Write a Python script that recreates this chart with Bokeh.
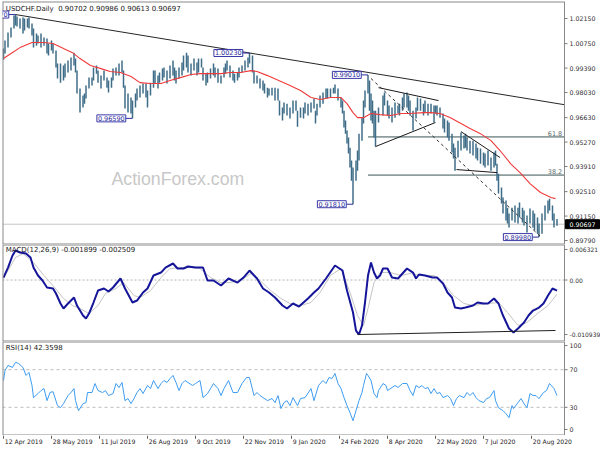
import numpy as np
from bokeh.plotting import figure
from bokeh.layouts import column
from bokeh.models import Range1d, Label
from bokeh.core.properties import value
from bokeh.embed import file_html
from bokeh.resources import INLINE

# ---------------- data (bar index 0 = 12 Apr 2019, daily bars) ----------------
symbol_title = "USDCHF.Daily\u00a0 0.90702 0.90986 0.90613 0.90697"
last_close = 0.90697

bar_idx = [0, 1, 3, 5, 7, 8, 9, 11, 13, 14,
           16, 17, 19, 20, 22, 23, 25, 27, 29, 30,
           32, 33, 35, 36, 38, 40, 41, 43, 45, 47,
           48, 49, 51, 53, 54, 55, 57, 59, 60, 62,
           63, 65, 67, 69, 70, 72, 73, 75, 77, 79,
           80, 81, 83, 85, 86, 88, 89, 91, 93, 95,
           96, 98, 100, 101, 103, 104, 106, 107, 109, 111,
           113, 114, 115, 117, 119, 120, 122, 123, 125, 127,
           129, 130, 132, 133, 135, 136, 138, 140, 141, 143,
           145, 147, 148, 149, 151, 153, 154, 156, 157, 159,
           161, 163, 164, 166, 167, 169, 171, 173, 174, 176,
           177, 179, 181, 183, 184, 186, 187, 189, 191, 193,
           195, 196, 198, 200, 201, 203, 205, 207, 208, 209,
           211, 213, 215, 216, 218, 220, 221, 223, 225, 226,
           227, 228, 229, 230, 231, 232, 233, 235, 236, 237,
           239, 240, 241, 243, 244, 245, 246, 247, 248, 250,
           253, 254, 256, 257, 259, 261, 263, 264, 266, 267,
           269, 270, 271, 273, 275, 276, 278, 280, 281, 283,
           285, 287, 288, 289, 291, 293, 294, 296, 297, 299,
           300, 301, 303, 305, 307, 308, 309, 311, 313, 315,
           316, 318, 320, 321, 323, 325, 327, 328, 329, 330,
           332, 333, 335, 336, 337, 339, 341, 343, 344, 346,
           347, 349, 351, 353, 354, 356, 357, 359, 361, 363,
           364, 366, 367, 369]

bar_high = [1.0048, 1.0092, 1.0137, 1.0165, 1.0232, 1.0237, 1.0226, 1.0215, 1.0220, 1.0215,
            1.0215, 1.0220, 1.0187, 1.0159, 1.0131, 1.0120, 1.0131, 1.0109, 1.0103, 1.0076,
            1.0092, 1.0076, 1.0037, 0.9964, 0.9964, 0.9953, 0.9964, 0.9981, 0.9998, 1.0025,
            0.9992, 0.9925, 0.9825, 0.9786, 0.9797, 0.9842, 0.9886, 0.9886, 0.9942, 0.9953,
            0.9925, 0.9897, 0.9925, 0.9886, 0.9870, 0.9886, 0.9936, 0.9942, 0.9964, 0.9981,
            0.9925, 0.9842, 0.9797, 0.9775, 0.9758, 0.9797, 0.9825, 0.9842, 0.9853, 0.9853,
            0.9814, 0.9858, 0.9925, 0.9925, 0.9897, 0.9914, 0.9936, 0.9942, 0.9925, 0.9953,
            0.9981, 0.9942, 0.9925, 0.9942, 0.9970, 1.0009, 1.0025, 1.0009, 0.9964, 0.9992,
            0.9970, 0.9992, 0.9992, 0.9942, 0.9908, 0.9914, 0.9936, 0.9964, 0.9942, 0.9936,
            0.9897, 0.9942, 0.9964, 0.9981, 0.9953, 0.9925, 0.9908, 0.9914, 0.9942, 0.9953,
            0.9981, 0.9998, 1.0023, 1.0009, 0.9925, 0.9897, 0.9881, 0.9870, 0.9853, 0.9830,
            0.9825, 0.9830, 0.9830, 0.9825, 0.9758, 0.9719, 0.9747, 0.9741, 0.9719, 0.9758,
            0.9758, 0.9702, 0.9719, 0.9719, 0.9747, 0.9741, 0.9747, 0.9769, 0.9702, 0.9741,
            0.9786, 0.9803, 0.9825, 0.9825, 0.9825, 0.9830, 0.9847, 0.9825, 0.9775, 0.9758,
            0.9702, 0.9647, 0.9591, 0.9552, 0.9496, 0.9424, 0.9385, 0.9424, 0.9480, 0.9574,
            0.9663, 0.9758, 0.9814, 0.9901, 0.9870, 0.9797, 0.9758, 0.9702, 0.9702, 0.9719,
            0.9786, 0.9803, 0.9758, 0.9730, 0.9719, 0.9747, 0.9730, 0.9741, 0.9775, 0.9797,
            0.9803, 0.9786, 0.9758, 0.9702, 0.9719, 0.9775, 0.9769, 0.9741, 0.9758, 0.9741,
            0.9741, 0.9730, 0.9730, 0.9730, 0.9719, 0.9686, 0.9658, 0.9647, 0.9636, 0.9574,
            0.9519, 0.9496, 0.9535, 0.9580, 0.9563, 0.9574, 0.9552, 0.9535, 0.9535, 0.9519,
            0.9496, 0.9491, 0.9469, 0.9463, 0.9480, 0.9441, 0.9469, 0.9480, 0.9407, 0.9351,
            0.9274, 0.9218, 0.9201, 0.9162, 0.9129, 0.9162, 0.9174, 0.9162, 0.9190, 0.9162,
            0.9146, 0.9118, 0.9157, 0.9146, 0.9129, 0.9107, 0.9073, 0.9129, 0.9174, 0.9201,
            0.9212, 0.9174, 0.9129, 0.9099]

bar_low = [0.9986, 1.0020, 1.0053, 1.0109, 1.0159, 1.0176, 1.0170, 1.0159, 1.0131, 1.0148,
           1.0165, 1.0159, 1.0120, 1.0053, 1.0064, 1.0076, 1.0053, 1.0064, 1.0020, 1.0009,
           1.0037, 1.0020, 0.9942, 0.9881, 0.9858, 0.9870, 0.9886, 0.9914, 0.9925, 0.9953,
           0.9914, 0.9797, 0.9691, 0.9719, 0.9741, 0.9769, 0.9825, 0.9842, 0.9870, 0.9908,
           0.9858, 0.9825, 0.9870, 0.9830, 0.9803, 0.9830, 0.9870, 0.9897, 0.9897, 0.9914,
           0.9830, 0.9714, 0.9691, 0.9686, 0.9659, 0.9719, 0.9758, 0.9775, 0.9797, 0.9775,
           0.9719, 0.9786, 0.9830, 0.9853, 0.9825, 0.9858, 0.9870, 0.9886, 0.9853, 0.9881,
           0.9897, 0.9870, 0.9853, 0.9881, 0.9897, 0.9925, 0.9942, 0.9914, 0.9897, 0.9925,
           0.9897, 0.9914, 0.9942, 0.9870, 0.9842, 0.9858, 0.9881, 0.9897, 0.9886, 0.9858,
           0.9853, 0.9886, 0.9908, 0.9925, 0.9886, 0.9870, 0.9858, 0.9870, 0.9886, 0.9914,
           0.9925, 0.9942, 0.9964, 0.9914, 0.9853, 0.9853, 0.9825, 0.9814, 0.9797, 0.9775,
           0.9786, 0.9786, 0.9758, 0.9758, 0.9675, 0.9647, 0.9686, 0.9675, 0.9658, 0.9686,
           0.9702, 0.9613, 0.9663, 0.9658, 0.9686, 0.9675, 0.9691, 0.9714, 0.9630, 0.9675,
           0.9719, 0.9741, 0.9769, 0.9769, 0.9775, 0.9797, 0.9797, 0.9758, 0.9719, 0.9686,
           0.9608, 0.9574, 0.9519, 0.9463, 0.9385, 0.9312, 0.9181, 0.9312, 0.9368, 0.9424,
           0.9535, 0.9630, 0.9719, 0.9797, 0.9702, 0.9647, 0.9630, 0.9552, 0.9502, 0.9636,
           0.9675, 0.9730, 0.9675, 0.9658, 0.9636, 0.9663, 0.9686, 0.9675, 0.9702, 0.9719,
           0.9719, 0.9702, 0.9675, 0.9591, 0.9658, 0.9702, 0.9702, 0.9675, 0.9691, 0.9675,
           0.9686, 0.9636, 0.9686, 0.9675, 0.9663, 0.9602, 0.9580, 0.9552, 0.9535, 0.9469,
           0.9435, 0.9368, 0.9441, 0.9480, 0.9491, 0.9496, 0.9480, 0.9463, 0.9452, 0.9435,
           0.9424, 0.9407, 0.9396, 0.9385, 0.9396, 0.9368, 0.9385, 0.9396, 0.9312, 0.9240,
           0.9185, 0.9129, 0.9090, 0.9073, 0.9051, 0.9090, 0.9079, 0.9073, 0.9107, 0.9079,
           0.9062, 0.9023, 0.9073, 0.9051, 0.9034, 0.9017, 0.8998, 0.9017, 0.9090, 0.9129,
           0.9146, 0.9090, 0.9051, 0.9061]

ma_idx = [0, 5, 11, 19, 27, 33, 40, 46, 51, 58,
          65, 71, 78, 85, 91, 98, 105, 111, 118, 125,
          131, 138, 145, 151, 158, 165, 169, 176, 185, 191,
          198, 205, 211, 218, 225, 229, 233, 236, 240, 245,
          251, 258, 265, 271, 280, 285, 291, 298, 305, 311,
          318, 325, 331, 338, 345, 351, 358, 365, 368]
ma_val = [0.9992, 1.0020, 1.0053, 1.0081, 1.0081, 1.0076, 1.0048, 1.0025, 0.9992, 0.9953,
          0.9936, 0.9920, 0.9914, 0.9892, 0.9858, 0.9853, 0.9853, 0.9870, 0.9886, 0.9903,
          0.9908, 0.9908, 0.9908, 0.9914, 0.9914, 0.9925, 0.9920, 0.9897, 0.9864, 0.9842,
          0.9814, 0.9775, 0.9764, 0.9775, 0.9775, 0.9741, 0.9691, 0.9663, 0.9663, 0.9686,
          0.9680, 0.9675, 0.9686, 0.9686, 0.9691, 0.9691, 0.9686, 0.9663, 0.9630, 0.9602,
          0.9574, 0.9535, 0.9480, 0.9407, 0.9351, 0.9296, 0.9246, 0.9218, 0.9212]

# pivot labels
pivot_text = ["1.02370", "0.96590", "1.00230", "0.99010", "0.91810", "0.89980"]
pivot_bar = [8, 86, 164, 243, 233, 357]
pivot_price = [1.0237, 0.9659, 1.0023, 0.9901, 0.9181, 0.8998]

# long trendline anchors (bar, price)
trend_a = (8, 1.0237)
trend_b = (164, 1.0023)

# pattern lines: bar0, price0, bar1, price1
pat_x0 = [250, 248, 305, 302]
pat_y0 = [0.9830, 0.9502, 0.9585, 0.9374]
pat_x1 = [290, 288, 331, 329]
pat_y1 = [0.9758, 0.9636, 0.9441, 0.9357]
dash_x0, dash_y0, dash_x1, dash_y1 = 245, 0.9881, 358, 0.9001

# Fibonacci retracement of 0.99010 -> 0.89980
fib_high, fib_low, fib_start = 0.9901, 0.8998, 243
fib_ratios = [0.618, 0.382]
fib_names = ["61.8", "38.2"]

price_ticks = [1.0215, 1.0075, 0.9939, 0.9803, 0.9663, 0.9527, 0.9391, 0.9251, 0.9115, 0.8979]
price_min, price_max = 0.89567, 1.03097

# MACD(12,26,9), values in thousandths
macd_idx = [0, 3, 6, 8, 11, 15, 18, 20, 23, 26,
            29, 33, 35, 38, 40, 43, 47, 49, 53, 55,
            57, 60, 63, 67, 70, 73, 78, 81, 86, 89,
            93, 96, 100, 105, 108, 113, 116, 120, 123, 128,
            133, 136, 140, 145, 150, 156, 160, 164, 169, 173,
            177, 181, 186, 189, 193, 197, 203, 207, 210, 215,
            221, 226, 229, 233, 235, 237, 239, 241, 243, 245,
            247, 249, 251, 253, 256, 259, 263, 266, 269, 273,
            275, 277, 281, 286, 289, 293, 296, 299, 301, 305,
            308, 313, 316, 320, 323, 327, 330, 333, 337, 340,
            343, 347, 350, 353, 357, 360, 363, 366, 369]
macd_main_milli = [0.44, 2.22, 4.36, 5.25, 4.90, 4.72, 4.00, 2.22, 0.80, -0.09,
                   -1.33, -1.51, -2.40, -4.18, -5.07, -4.18, -3.11, -4.54, -6.32, -6.85,
                   -5.96, -4.00, -1.87, -1.51, -2.05, -1.33, 0.27, -1.51, -4.00, -3.65,
                   -2.22, -1.51, 0.80, 1.33, 2.22, 2.94, 2.05, 2.05, 2.40, 2.22,
                   2.22, -0.09, -0.09, -0.98, 0.27, -0.45, 0.44, 1.69, 0.27, -1.51,
                   -2.22, -3.11, -4.54, -5.07, -4.18, -4.72, -3.29, -2.22, -1.51, 0.27,
                   2.58, 1.69, -1.87, -5.78, -8.99, -9.70, -8.10, -4.00, 0.80, 3.11,
                   1.33, 0.27, 0.80, 2.05, 2.05, 0.44, 0.27, 1.16, 2.05, 1.33,
                   0.27, 0.98, 0.80, 0.44, 0.44, -0.62, -2.22, -3.11, -4.90, -5.07,
                   -4.90, -4.54, -4.00, -4.18, -4.18, -3.29, -4.18, -6.32, -8.63, -9.34,
                   -8.63, -7.56, -6.32, -5.43, -4.90, -4.18, -2.76, -1.51, -1.90]
sig_idx = [0, 3, 8, 13, 20, 27, 33, 40, 46, 51,
           57, 63, 68, 75, 80, 87, 91, 98, 105, 111,
           118, 125, 131, 138, 145, 151, 158, 165, 171, 178,
           185, 191, 198, 205, 211, 218, 225, 231, 236, 240,
           243, 247, 251, 258, 265, 271, 278, 287, 293, 300,
           307, 313, 323, 330, 336, 343, 349, 356, 363, 369]
macd_signal_milli = [0.27, 1.69, 4.00, 4.72, 3.11, 0.80, -0.98, -3.29, -4.54, -5.07,
                     -5.96, -4.54, -2.40, -1.51, -0.45, -2.76, -3.11, -1.87, 0.44, 2.05,
                     2.22, 2.22, 2.05, 0.44, -0.45, -0.45, -0.09, 1.16, -0.09, -1.87,
                     -3.29, -4.18, -4.54, -4.00, -2.22, 0.80, 2.05, -2.22, -6.32, -8.10,
                     -5.07, -0.45, 1.33, 1.33, 0.80, 1.16, 0.80, 0.80, -0.45, -2.76,
                     -4.18, -4.54, -4.18, -4.00, -5.78, -8.10, -7.56, -5.96, -4.54, -2.51]
macd_div_x = [236, 368]
macd_div_milli = [-9.70, -8.98]
macd_min, macd_max = -0.010939, 0.006321
macd_label_pos = [0.005432, 0.0, -0.009694]
macd_label_txt = ["0.006321", "0.00", "-0.010939"]
macd_title = "MACD(12,26,9) -0.001899 -0.002509"

# RSI(14)
rsi_idx = [0, 1, 3, 6, 8, 10, 13, 15, 17, 19,
           20, 23, 25, 27, 29, 31, 33, 36, 38, 40,
           43, 45, 47, 48, 50, 53, 55, 56, 59, 61,
           63, 66, 68, 70, 73, 75, 77, 79, 81, 83,
           85, 87, 89, 91, 93, 96, 98, 100, 103, 105,
           107, 109, 111, 113, 115, 117, 119, 121, 123, 126,
           128, 131, 133, 136, 138, 140, 143, 145, 147, 150,
           153, 156, 159, 162, 164, 167, 169, 171, 173, 176,
           179, 181, 183, 185, 187, 189, 191, 193, 196, 198,
           201, 205, 207, 210, 213, 215, 217, 219, 221, 223,
           225, 227, 229, 231, 233, 235, 237, 239, 240, 242,
           243, 245, 247, 249, 250, 253, 255, 256, 259, 261,
           263, 266, 269, 271, 273, 275, 277, 279, 281, 283,
           285, 287, 289, 291, 293, 296, 298, 300, 302, 304,
           307, 309, 311, 313, 315, 317, 320, 322, 324, 327,
           328, 330, 333, 335, 337, 339, 340, 343, 345, 347,
           349, 351, 353, 355, 357, 360, 362, 364, 367, 369]
rsi_val = [58.5, 69.2, 74.5, 72.4, 77.8, 76.7, 72.4, 63.9, 67.1, 53.2,
           40.3, 44.6, 47.8, 49.9, 37.1, 45.7, 46.7, 31.8, 29.6, 33.9,
           42.5, 45.7, 49.9, 37.1, 26.4, 33.9, 35.0, 45.7, 45.7, 55.3,
           47.8, 45.7, 47.8, 42.5, 44.6, 55.3, 51.0, 56.4, 37.1, 39.3,
           33.9, 39.3, 45.7, 49.9, 44.6, 53.2, 49.9, 58.5, 49.9, 55.3,
           58.5, 56.4, 60.6, 63.9, 56.4, 47.8, 55.3, 58.5, 56.4, 53.2,
           55.3, 58.5, 40.3, 44.6, 49.9, 55.3, 49.9, 42.5, 49.9, 58.5,
           45.7, 45.7, 55.3, 61.7, 61.7, 42.5, 45.7, 42.5, 40.3, 37.1,
           39.3, 35.0, 42.5, 28.6, 35.0, 37.1, 31.8, 40.3, 31.8, 39.3,
           40.3, 49.9, 37.1, 53.2, 58.5, 55.3, 61.7, 60.6, 66.0, 55.3,
           49.9, 40.3, 31.8, 24.3, 15.7, 26.4, 37.1, 45.7, 53.2, 66.0,
           63.9, 58.5, 44.6, 40.3, 47.8, 55.3, 53.2, 47.8, 51.0, 53.2,
           51.0, 55.3, 55.3, 47.8, 42.5, 53.2, 51.0, 53.2, 49.9, 51.0,
           44.6, 49.9, 44.6, 45.7, 40.3, 42.5, 39.3, 31.8, 39.3, 42.5,
           40.3, 45.7, 42.5, 45.7, 40.3, 37.1, 35.0, 39.3, 40.3, 47.8,
           37.1, 29.6, 26.4, 23.2, 18.9, 31.8, 28.6, 35.0, 39.3, 33.9,
           29.6, 44.6, 42.5, 42.5, 39.3, 45.7, 47.8, 55.3, 49.9, 42.4]
rsi_title = "RSI(14) 42.3598"
rsi_levels = [70, 30]
rsi_label_pos = [95.7, 70, 30, 6.4]
rsi_label_txt = ["100", "70", "30", "0"]

date_idx = [0, 32, 64, 96, 128, 160, 192, 224, 256, 288, 320, 352]
date_text = ["12 Apr 2019", "28 May 2019", "11 Jul 2019", "26 Aug 2019", "9 Oct 2019",
             "22 Nov 2019", "9 Jan 2020", "24 Feb 2020", "8 Apr 2020", "22 May 2020",
             "7 Jul 2020", "20 Aug 2020"]

# ---------------- layout constants ----------------
FONT = "DejaVu Sans"
W = 600
LB = 2
SCALE_W = 36                  # width of the price-scale strip (px)
PX = 1.5                      # pixels per bar
X0 = -0.67
X1 = X0 + (W - LB - SCALE_W) / PX   # right edge of the plotting area
XW = X0 + (W - LB) / PX             # right edge incl. the scale strip
xr = Range1d(X0, XW)
AX_COL = "#7a7a7a"
FRAME_COL = "#8a8a8a"


def panel(height, ymin, ymax, top=0):
    p = figure(width=W, height=height, x_range=xr, y_range=Range1d(ymin, ymax),
               output_backend="svg", toolbar_location=None,
               x_axis_location=None, y_axis_location=None,
               min_border_left=LB, min_border_right=0,
               min_border_top=top, min_border_bottom=0)
    p.grid.visible = False
    p.outline_line_color = None
    p.background_fill_color = "white"
    p.border_fill_color = "white"
    return p


def frame_and_scale(p, ymin, ymax, pos, labels, fs="6.3px"):
    # frame of the plotting area (drawn 2px so that the inner pixel shows at the clip edge)
    p.segment(x0=[X0, X0], y0=[ymin, ymax], x1=[X1, X1], y1=[ymin, ymax],
              line_color=FRAME_COL, line_width=2)
    p.segment(x0=[X0, X1], y0=[ymin, ymin], x1=[X0, X1], y1=[ymax, ymax],
              line_color=FRAME_COL, line_width=[2, 1])
    # right-hand value scale
    p.segment(x0=[X1] * len(pos), y0=pos, x1=[X1 + 3 / PX] * len(pos), y1=pos,
              line_color=AX_COL, line_width=1)
    p.text(x=[X1 + 5 / PX] * len(pos), y=pos, text=labels, text_font=value(FONT),
           text_font_size=fs, text_color="#303030", text_align="left", text_baseline="middle")


def small_text(p, x, y, t, color="#202020", align="left", baseline="middle", size="7px"):
    p.text(x=[x], y=[y], text=[t], text_font=value(FONT), text_font_size=size,
           text_color=color, text_align=align, text_baseline=baseline)


# ---------------- main price panel ----------------
pm = panel(244, price_min, price_max, top=1)

pm.text(x=[72], y=[0.9324], text=["ActionForex.com"], text_font=value("Liberation Sans"),
        text_font_size="17.7px", text_color="#c8c8c8", text_baseline="middle", text_align="left")

# current price line
pm.segment(x0=[X0], y0=[last_close], x1=[X1], y1=[last_close], line_color="#c4c4c4", line_width=1)

# fibonacci lines
fib_levels = [fib_low + r * (fib_high - fib_low) for r in fib_ratios]
pm.segment(x0=[fib_start] * 2, y0=fib_levels, x1=[X1] * 2, y1=fib_levels,
           line_color="#8e9e9e", line_width=1.6)
pm.text(x=[X1 - 1.5] * 2, y=fib_levels, text=fib_names, text_font=value(FONT),
        text_font_size="6.5px", text_color="#5a6a6a", text_align="right",
        text_baseline="bottom", y_offset=-1)

# price bars
n = min(len(bar_idx), len(bar_high), len(bar_low))
pm.segment(x0=bar_idx[:n], y0=bar_low[:n], x1=bar_idx[:n], y1=bar_high[:n],
           line_color="#3f6d88", line_width=1.5)

# moving average
pm.line(ma_idx, ma_val, line_color="#f03a3a", line_width=1.1)

# long trendline
slope = (trend_b[1] - trend_a[1]) / (trend_b[0] - trend_a[0])
pm.segment(x0=[trend_a[0]], y0=[trend_a[1]], x1=[X1],
           y1=[trend_a[1] + slope * (X1 - trend_a[0])], line_color="#262626", line_width=1)

# pattern lines
pm.segment(x0=pat_x0, y0=pat_y0, x1=pat_x1, y1=pat_y1, line_color="#1a1a1a", line_width=1)
pm.segment(x0=[dash_x0], y0=[dash_y0], x1=[dash_x1], y1=[dash_y1],
           line_color="#303030", line_width=1, line_dash="3 3")

# pivot labels
GAP = 4.5
for t, b, pr_ in zip(pivot_text, pivot_bar, pivot_price):
    pm.segment(x0=[b - GAP], y0=[pr_], x1=[b], y1=[pr_], line_color="#2c2c9c", line_width=1)
    pm.add_layout(Label(x=b - GAP, y=pr_, text=t, text_align="right", text_baseline="middle",
                        text_font=FONT, text_font_size="6.5px", text_color="#2c2c9c",
                        background_fill_color="white", border_line_color="#3a3aa8",
                        border_line_width=1, padding=1))

small_text(pm, 1.5, 1.0270, symbol_title)

frame_and_scale(pm, price_min, price_max, price_ticks, ["%.5f" % v for v in price_ticks])
pm.rect(x=[X1 + 18 / PX], y=[last_close], width=34, height=9,
        width_units="screen", height_units="screen", fill_color="black", line_color="black")
pm.text(x=[X1 + 5 / PX], y=[last_close], text=["%.5f" % last_close], text_font=value(FONT),
        text_font_size="6.3px", text_color="white", text_align="left", text_baseline="middle")

# ---------------- MACD panel ----------------
pd_ = panel(97, macd_min, macd_max)
pd_.segment(x0=[X0], y0=[0], x1=[X1], y1=[0], line_color="#b4b4b4", line_width=1,
            line_dash="2 2")
pd_.line(sig_idx, np.array(macd_signal_milli) * 1e-3, line_color="#c4c4c4", line_width=1)
pd_.line(macd_idx, np.array(macd_main_milli) * 1e-3, line_color="#15159a", line_width=2)
pd_.line(macd_div_x, np.array(macd_div_milli) * 1e-3, line_color="#202020", line_width=1)
small_text(pd_, 1.5, 0.005254, macd_title)
frame_and_scale(pd_, macd_min, macd_max, macd_label_pos, macd_label_txt, fs="6px")

# ---------------- RSI panel ----------------
pr = panel(94, 0, 100)
pr.segment(x0=[X0] * 2, y0=rsi_levels, x1=[X1] * 2, y1=rsi_levels, line_color="#bdbdbd",
           line_width=1, line_dash="3 3")
pr.line(rsi_idx, rsi_val, line_color="#3d9cf0", line_width=1)
small_text(pr, 1.5, 93.6, rsi_title)
frame_and_scale(pr, 0, 100, rsi_label_pos, rsi_label_txt)

# ---------------- date row ----------------
pdt = panel(15, 0, 1)
pdt.segment(x0=date_idx, y0=[1] * len(date_idx), x1=date_idx, y1=[0.78] * len(date_idx),
            line_color="#606060", line_width=1)
pdt.text(x=[i + 0.9 for i in date_idx], y=[0.58] * len(date_idx), text=date_text,
         text_font=value(FONT), text_font_size="6.1px", text_color="#202020",
         text_align="left", text_baseline="middle")

layout = column(pm, pd_, pr, pdt, spacing=0)
open("out.html", "w").write(file_html(layout, INLINE, title="USDCHF Daily"))
